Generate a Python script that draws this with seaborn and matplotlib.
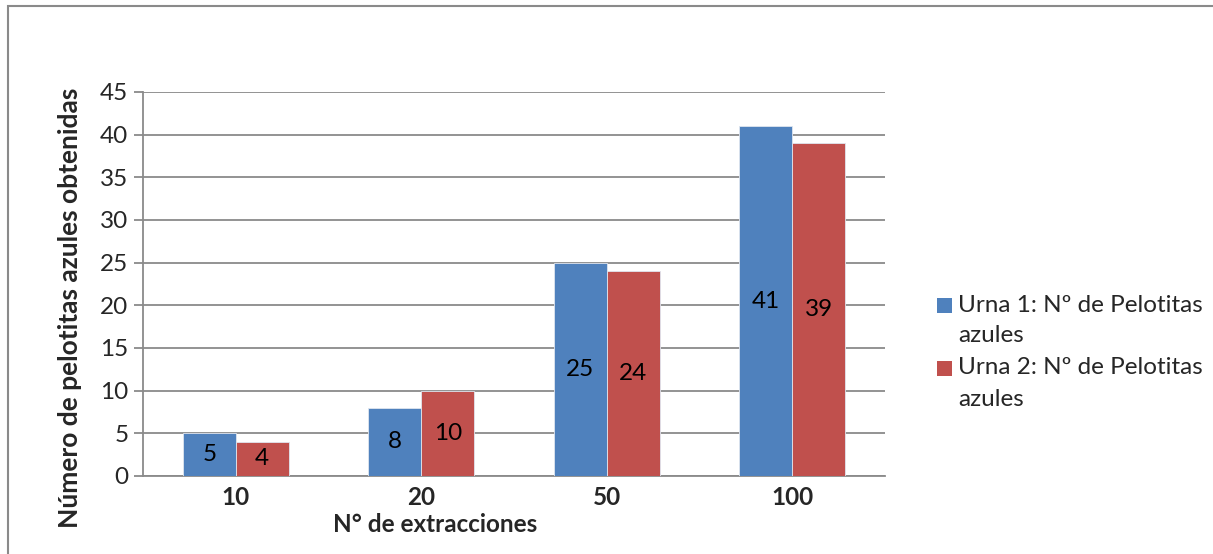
import matplotlib
matplotlib.use("Agg")
import matplotlib.pyplot as plt
import matplotlib.patches as mpatches
import seaborn as sns
import pandas as pd

# Data
extracciones = ["10", "20", "50", "100"]
urna1 = [5, 8, 25, 41]
urna2 = [4, 10, 24, 39]
series_names = ["Urna 1: Nº de Pelotitas\nazules", "Urna 2: Nº de Pelotitas\nazules"]
colors = ["#4F81BD", "#C0504D"]
y_ticks = [0, 5, 10, 15, 20, 25, 30, 35, 40, 45]

df = pd.DataFrame({
    "extracciones": extracciones * 2,
    "valor": urna1 + urna2,
    "serie": [series_names[0]] * len(extracciones) + [series_names[1]] * len(extracciones),
})

sns.set_theme(style="white")
plt.rcParams["font.family"] = ["Lato", "DejaVu Sans"]

FS = 17.5

W, H = 1213, 554
fig = plt.figure(figsize=(W / 100, H / 100), dpi=100)
fig.patch.set_facecolor("white")

# plot area in pixel coordinates
x0, x1, ytop, ybot = 143, 885, 92, 476
ax = fig.add_axes([x0 / W, 1 - ybot / H, (x1 - x0) / W, (ybot - ytop) / H])

sns.barplot(data=df, x="extracciones", y="valor", hue="serie",
            order=extracciones, hue_order=series_names,
            palette=colors, width=0.572, dodge=True, saturation=1,
            edgecolor="#dfe6f0", linewidth=0.6, legend=False, ax=ax, zorder=3)

ax.set_ylim(0, 45)
ax.set_yticks(y_ticks)
ax.set_xlim(-0.5, len(extracciones) - 0.5)
ax.yaxis.grid(True, color="#8a8a8a", linewidth=1.3, zorder=0)
ax.xaxis.grid(False)
ax.set_axisbelow(True)

for side in ["top", "right"]:
    ax.spines[side].set_visible(False)
for side in ["left", "bottom"]:
    ax.spines[side].set_color("#8a8a8a")
    ax.spines[side].set_linewidth(1.3)

ax.tick_params(axis="y", which="major", direction="out", length=6.5, width=1.3,
               color="#8a8a8a", labelsize=FS, pad=4, left=True)
ax.tick_params(axis="x", length=0, labelsize=FS, pad=7)
for lbl in ax.get_xticklabels():
    lbl.set_fontweight("bold")

ax.set_xlabel("")
ax.set_ylabel("")

# value labels centred in each bar
for cont in ax.containers:
    ax.bar_label(cont, label_type="center", fmt="%d", fontsize=FS, color="black")

# axis titles
fig.text(435 / W, 1 - 525 / H, "N° de extracciones", ha="center", va="center",
         fontsize=FS, fontweight="bold")
fig.text(70 / W, 1 - 308 / H, "Número de pelotitas azules obtenidas", ha="center",
         va="center", rotation=90, fontsize=19, fontweight="bold")

# legend
legend_rows = [305, 368]
for name, col, yc in zip(series_names, colors, legend_rows):
    fig.patches.append(mpatches.Rectangle((937 / W, 1 - (yc + 7.5) / H), 15 / W, 15 / H,
                                          transform=fig.transFigure, facecolor=col,
                                          edgecolor="none"))
    first, second = name.split("\n")
    fig.text(958 / W, 1 - yc / H, first, ha="left", va="center", fontsize=FS)
    fig.text(958 / W, 1 - (yc + 31) / H, second, ha="left", va="center", fontsize=FS)

# chart border
fig.patches.append(mpatches.Rectangle((8 / W, -0.05), 1.2, 1 - 6 / H + 0.05,
                                      transform=fig.transFigure, fill=False,
                                      edgecolor="#8a8a8a", linewidth=1.5))

fig.savefig("out.png", dpi=100)
